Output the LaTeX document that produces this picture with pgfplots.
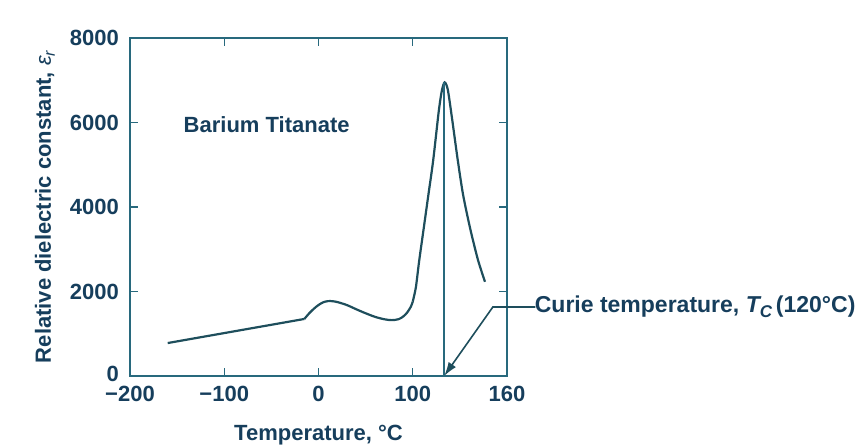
\documentclass[border=0pt]{standalone}
\usepackage{fontspec}
\setmainfont{Liberation Sans}
\usepackage{pgfplots}
\pgfplotsset{compat=1.18}
\usetikzlibrary{arrows.meta}
\definecolor{axcol}{RGB}{40,105,125}
\definecolor{curvecol}{RGB}{30,78,92}
\definecolor{txtcol}{RGB}{22,62,92}
\begin{document}
\begin{tikzpicture}
\useasboundingbox (0,0) rectangle (432.5pt,224pt);
\begin{axis}[
  at={(65pt,36pt)}, anchor=south west,
  scale only axis, width=188.5pt, height=169pt,
  x coord trafo/.code={\pgfmathparse{#1>100 ? 100+(#1-100)*5/3 : #1}},
  x coord inv trafo/.code={\pgfmathparse{#1>100 ? 100+(#1-100)*3/5 : #1}},
  xmin=-200, xmax=160, ymin=0, ymax=8000,
  xtick={-200,-100,0,100,160},
  xticklabels={−200,−100,0,100,160},
  ytick={0,2000,4000,6000,8000},
  yticklabels={\raisebox{2.5pt}{0},2000,4000,6000,8000},
  tick align=inside, major tick length=4pt,
  tick style={axcol, line width=0.7pt},
  axis line style={axcol, line width=0.8pt},
  ticklabel style={font=\fontsize{11}{13}\selectfont\bfseries, text=txtcol},
  yticklabel style={xshift=-2pt},
  xticklabel style={yshift=-1.5pt},
  xlabel={Temperature, °C},
  ylabel={Relative dielectric constant, {\mdseries\itshape ε}\raisebox{-0.35ex}{\fontsize{8}{9}\selectfont\mdseries\itshape r}},
  label style={font=\fontsize{11}{13}\selectfont\bfseries, text=txtcol},
  xlabel style={at={(axis description cs:0.5,-0.175)}, anchor=center},
  ylabel style={at={(axis description cs:-0.2255,0.5)}, anchor=center, rotate=0},
  clip=false,
]
% straight low-temperature segment
\addplot[curvecol, line width=1.1pt] coordinates {(-160,780) (-15,1350)};
% hump and valley
\addplot[curvecol, line width=1.1pt, smooth, tension=0.5] coordinates {
(-15,1350) (-10,1480) (-5,1590) (0,1680) (5,1745) (10,1772) (15,1770)
(20,1750) (30,1680) (40,1580) (50,1485) (60,1400) (70,1342) (78,1322)
(85,1345) (90,1410) (94,1500) (98,1640) (100,1760)};
% peak
\addplot[curvecol, line width=1.1pt, smooth, tension=0.45] coordinates {
(100,1760) (102,2100) (104,2700) (107,3500) (110,4300) (113,5100)
(116.5,6250) (118.5,6750) (120.3,6950) (122.3,6780) (125,6100)
(128.5,5150) (132,4300) (136.5,3500) (141.5,2750) (146,2230)};
% Curie temperature line
\addplot[axcol, line width=0.8pt] coordinates {(120,0) (120,6950)};
\draw[curvecol, line width=0.8pt, -{Latex[length=7pt,width=4.5pt]}]
  (axis cs:178,1633) -- (axis cs:151,1633) -- (axis cs:120,0);
\node[anchor=west, text=txtcol, font=\fontsize{11.5}{13}\selectfont\bfseries, inner sep=0pt]
  at (axis cs:177.5,1633) {Curie temperature, {\itshape T}\raisebox{-0.35ex}{\fontsize{8.5}{9}\selectfont\itshape C}\,(120°C)};
\node[text=txtcol, font=\fontsize{11}{13}\selectfont\bfseries] at (axis cs:-55,5940) {Barium Titanate};
\end{axis}
\end{tikzpicture}
\end{document}
